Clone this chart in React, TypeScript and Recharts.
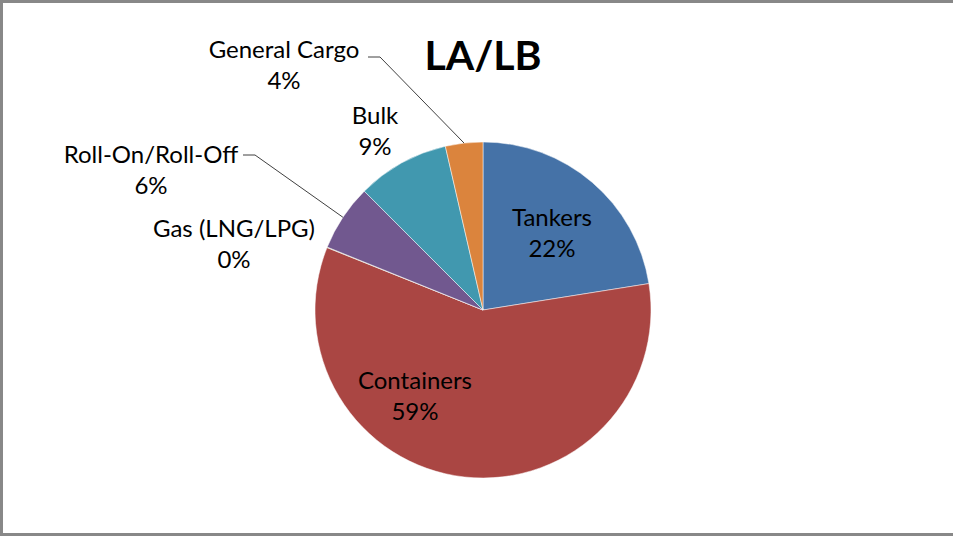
import { Pie, PieChart, Cell } from "recharts"

const categories = ["Tankers", "Containers", "Gas (LNG/LPG)", "Roll-On/Roll-Off", "Bulk", "General Cargo"]
const shares = [22.5, 58.6, 0.05, 6.4, 8.9, 3.6]
const pctLabels = ["22%", "59%", "0%", "6%", "9%", "4%"]
const colors = ["#4572A7", "#AA4643", "#89A54E", "#71588F", "#4198AF", "#DB843D"]

const data = categories.map((name, i) => ({ name, value: shares[i] }))

// where Excel put each label (center x, first baseline), plus leader-line start if any
const labelSpots: Record<string, { x: number; y: number; lead?: [number, number] }> = {
    "Tankers": { x: 552, y: 226 },
    "Containers": { x: 415, y: 389 },
    "Gas (LNG/LPG)": { x: 234, y: 237 },
    "Roll-On/Roll-Off": { x: 151, y: 163, lead: [243, 155] },
    "Bulk": { x: 375, y: 124 },
    "General Cargo": { x: 284, y: 58, lead: [368, 57] },
}

const RAD = Math.PI / 180

function renderLabel(props: any) {
    const { cx, cy, midAngle, outerRadius, index, name } = props
    const spot = labelSpots[name]
    if (!spot) return null
    let leader = null
    if (spot.lead) {
        const ex = cx + outerRadius * Math.cos(-midAngle * RAD)
        const ey = cy + outerRadius * Math.sin(-midAngle * RAD)
        const [sx, sy] = spot.lead
        leader = <polyline points={`${sx},${sy} ${sx + 12},${sy} ${ex},${ey}`} fill="none" stroke="#404040" strokeWidth={1} />
    }
    return (
        <g>
            {leader}
            <text x={spot.x} y={spot.y} textAnchor="middle" fill="#000" fontSize={24} fontFamily="Lato, sans-serif">
                {name}
            </text>
            <text x={spot.x} y={spot.y + 31} textAnchor="middle" fill="#000" fontSize={24} fontFamily="Lato, sans-serif">
                {pctLabels[index]}
            </text>
        </g>
    )
}

export default function App() {
    return (
        <div style={{ width: 953, height: 537, position: "relative", background: "#fff" }}>
            <style>{`body{margin:0}`}</style>
            <PieChart width={953} height={537} style={{ position: "absolute", left: 0, top: 0 }}>
                <rect x={1.5} y={1.5} width={960} height={533} fill="none" stroke="#888888" strokeWidth={3} />
                <text x={483} y={70} textAnchor="middle" fontSize={41} fontWeight="bold" fontFamily="Lato, sans-serif" fill="#000">
                    LA/LB
                </text>
                <Pie
                    data={data}
                    dataKey="value"
                    nameKey="name"
                    cx={478}
                    cy={305}
                    outerRadius={168}
                    startAngle={90}
                    endAngle={-270}
                    stroke="#ffffff"
                    strokeWidth={0.5}
                    label={renderLabel}
                    labelLine={false}
                    isAnimationActive={false}
                >
                    {data.map((d, i) => (
                        <Cell key={d.name} fill={colors[i]} />
                    ))}
                </Pie>
            </PieChart>
        </div>
    )
}
